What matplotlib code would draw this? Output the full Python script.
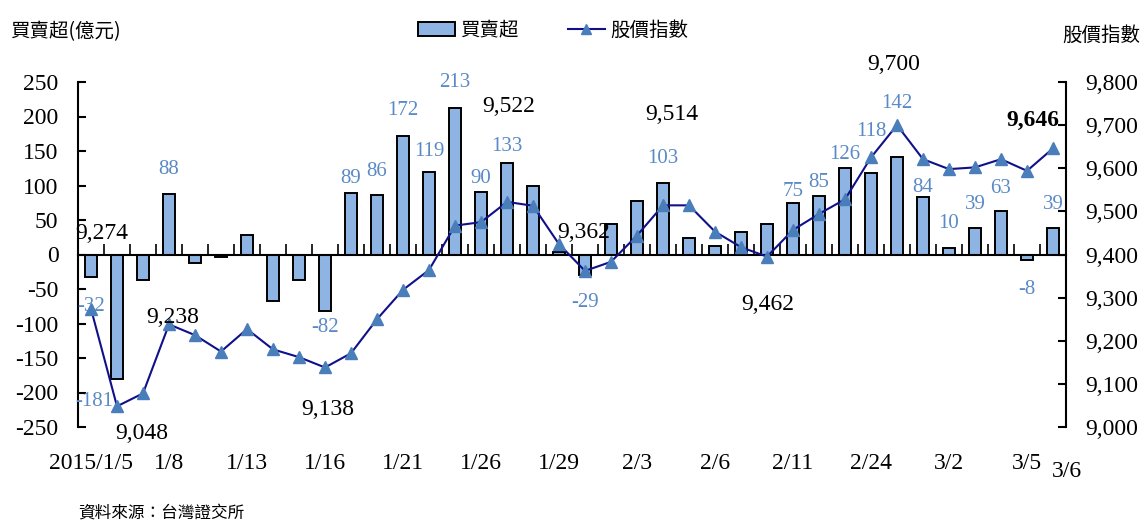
import matplotlib
matplotlib.use("Agg")
import matplotlib.pyplot as plt
from matplotlib.ticker import FuncFormatter, MultipleLocator
from matplotlib.patches import Patch
from matplotlib.lines import Line2D

plt.rcParams["axes.unicode_minus"] = False

# ---------------- data ----------------
dates = ["1/5", "1/6", "1/7", "1/8", "1/9", "1/12", "1/13", "1/14", "1/15", "1/16",
         "1/19", "1/20", "1/21", "1/22", "1/23", "1/26", "1/27", "1/28", "1/29", "1/30",
         "2/2", "2/3", "2/4", "2/5", "2/6", "2/9", "2/10", "2/11", "2/12", "2/13",
         "2/24", "2/25", "2/26", "3/2", "3/3", "3/4", "3/5", "3/6"]
net_buy = [-32, -181, -37, 88, -12, -3, 28, -68, -37, -82,
           89, 86, 172, 119, 213, 90, 133, 100, 3, -29,
           44, 77, 103, 24, 13, 33, 44, 75, 85, 126,
           118, 142, 84, 10, 39, 63, -8, 39]
index_vals = [9274, 9048, 9078, 9238, 9213, 9175, 9227, 9180, 9162, 9138,
              9171, 9250, 9318, 9364, 9467, 9475, 9522, 9513, 9424, 9362,
              9383, 9444, 9514, 9514, 9453, 9417, 9395, 9457, 9494, 9528,
              9625, 9700, 9621, 9598, 9602, 9621, 9594, 9646]
tick_labels = {0: "2015/1/5", 3: "1/8", 6: "1/13", 9: "1/16", 12: "1/21", 15: "1/26",
               18: "1/29", 21: "2/3", 24: "2/6", 27: "2/11", 30: "2/24", 33: "3/2", 36: "3/5"}
bar_label_idx = [0, 1, 3, 9, 10, 11, 12, 13, 14, 15, 16, 19, 22, 27, 28, 29, 30, 31,
                 32, 33, 34, 35, 36, 37]
index_labels = {0: "9,274", 1: "9,048", 3: "9,238", 9: "9,138", 16: "9,522",
                19: "9,362", 22: "9,514", 26: "9,462", 31: "9,700", 37: "9,646"}

# ---------------- styling / placement (pixel offsets) ----------------
bar_label_off = {0: (0, -30), 1: (-23, -22), 3: (0, 24), 9: (0, -16), 10: (0, 15),
                 11: (0, 24), 12: (0, 25), 13: (0, 21), 14: (0, 25), 15: (0, 14),
                 16: (0, 16), 19: (0, -28), 22: (0, 25), 27: (0, 11), 28: (0, 13),
                 29: (0, 13), 30: (0, 42), 31: (0, 53), 32: (0, 9), 33: (0, 24),
                 34: (0, 23), 35: (0, 23), 36: (0, -29), 37: (0, 23)}
index_label_off = {0: (11, 75), 1: (25, -27), 3: (4, 7), 9: (3, -42), 16: (2, 95),
                   19: (-1, 38), 22: (9, 91), 26: (1, -48), 31: (-3, 61), 37: (-20, 28)}

BAR_COLOR = "#8DB4E2"
LABEL_BLUE = "#5A8AC6"
LINE_COLOR = "#10108A"
MARKER_COLOR = "#4A7EBB"
SERIF = ["Liberation Serif", "DejaVu Serif"]
CJK = ["Noto Sans CJK TC", "DejaVu Sans"]

W, H = 1141, 522
fig = plt.figure(figsize=(W / 100, H / 100), dpi=100)
ax = fig.add_axes([78 / W, 1 - 427 / H, (1066 - 78) / W, (427 - 82) / H])
ax2 = ax.twinx()

x = list(range(len(dates)))
ax.bar(x, net_buy, width=0.45, color=BAR_COLOR, edgecolor="black", linewidth=1.4, zorder=2)
ax.set_xlim(-0.5, len(dates) - 0.5)
ax.set_ylim(-250, 250)
ax.yaxis.set_major_locator(MultipleLocator(50))

ax2.plot(x, index_vals, color=LINE_COLOR, lw=1.5, marker="^", markersize=9,
         markerfacecolor=MARKER_COLOR, markeredgecolor=MARKER_COLOR, zorder=3)
ax2.set_ylim(9000, 9800)
ax2.yaxis.set_major_locator(MultipleLocator(100))
ax2.yaxis.set_major_formatter(FuncFormatter(lambda v, p: f"{int(v):,}"))

for a in (ax, ax2):
    a.spines["top"].set_visible(False)
    a.set_facecolor("none")
ax2.spines["bottom"].set_visible(False)
ax2.spines["left"].set_visible(False)
ax.spines["right"].set_visible(False)
ax.spines["bottom"].set_position(("data", 0))
for s in ("left", "bottom"):
    ax.spines[s].set_linewidth(1.5)
ax2.spines["right"].set_linewidth(1.5)

ax.set_xticks([i - 0.5 for i in range(len(dates) + 1)])
ax.set_xticklabels([])
ax.tick_params(axis="x", direction="in", length=8, width=1.2)
ax.tick_params(axis="y", direction="in", length=6, width=1.5, labelsize=17, pad=14)
ax2.tick_params(axis="y", direction="in", length=6, width=1.5, labelsize=17, pad=14)
for lab in ax.get_yticklabels() + ax2.get_yticklabels():
    lab.set_family(SERIF)
ax.set_zorder(ax2.get_zorder() - 1)
ax2.patch.set_visible(False)

# category labels along the bottom
for i, t in tick_labels.items():
    ax.text(i, -0.105, t, transform=ax.get_xaxis_transform(), ha="center", va="center",
            fontsize=17, family=SERIF)
ax.text(37.55, -0.13, "3/6", transform=ax.get_xaxis_transform(), ha="center",
        va="center", fontsize=17, family=SERIF)

# bar value labels
for i in bar_label_idx:
    dx, dy = bar_label_off[i]
    ax.annotate(f"{net_buy[i]}", (i, net_buy[i]), xytext=(dx * 0.72, dy * 0.72),
                textcoords="offset points", ha="center", va="center",
                fontsize=15, color=LABEL_BLUE, family=SERIF, zorder=5)

# index labels
for i, t in index_labels.items():
    dx, dy = index_label_off[i]
    ax2.annotate(t, (i, index_vals[i]), xytext=(dx * 0.72, dy * 0.72),
                 textcoords="offset points", ha="center", va="center",
                 fontsize=17, color="black", family=SERIF,
                 fontweight="bold" if i == len(dates) - 1 else "normal", zorder=6)

# axis titles and legend
fig.text(10 / W, 1 - 32 / H, "買賣超(億元)", fontsize=14, family=CJK, ha="left", va="center")
fig.text(1141 / W - 0.001, 1 - 35 / H, "股價指數", fontsize=14, family=CJK, ha="right", va="center")
handles = [Patch(facecolor=BAR_COLOR, edgecolor="black", linewidth=1.4),
           Line2D([0], [0], color=LINE_COLOR, lw=1.5, marker="^", markersize=7,
                  markerfacecolor=MARKER_COLOR, markeredgecolor=MARKER_COLOR)]
fig.legend(handles, ["買賣超", "股價指數"], loc="center", bbox_to_anchor=(553 / W, 1 - 30 / H),
           ncol=2, frameon=False, prop={"family": CJK, "size": 14},
           handlelength=1.9, handletextpad=0.3, columnspacing=2.5)

fig.text(78 / W, 1 - 513 / H, "資料來源：台灣證交所", fontsize=12, family=CJK,
         ha="left", va="center")

fig.savefig("out.png", dpi=100)
